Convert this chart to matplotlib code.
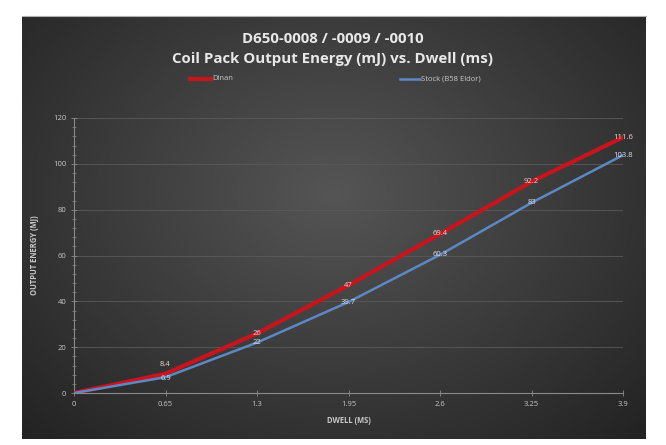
import numpy as np
import matplotlib
matplotlib.use("Agg")
import matplotlib.pyplot as plt
from matplotlib.ticker import MultipleLocator

dwell = [0, 0.65, 1.3, 1.95, 2.6, 3.25, 3.9]
dinan = [0, 8.4, 26, 47, 69.4, 92.2, 111.6]
stock = [0, 6.9, 22, 39.7, 60.3, 83, 103.8]
dinan_labels = ["", "8.4", "26", "47", "69.4", "92.2", "111.6"]
stock_labels = ["", "6.9", "22", "39.7", "60.3", "83", "103.8"]

plt.rcParams['font.family'] = ['Open Sans', 'DejaVu Sans']

fig = plt.figure(figsize=(6.66, 4.45), dpi=100)
fig.patch.set_facecolor('white')

# dark panel with radial gradient
bg = fig.add_axes([22/666, 1-439/445, (646-22)/666, (439-16)/445])
bg.set_axis_off()
yy, xx = np.mgrid[0:1:300j, 0:1:440j]
r = np.sqrt(((xx-0.5)/0.75)**2 + ((yy-0.42)/0.85)**2)
r = np.clip(r, 0, 1)
c0 = np.array([0x55, 0x55, 0x55])/255
c1 = np.array([0x20, 0x20, 0x20])/255
img = c0[None, None, :]*(1-r[..., None]) + c1[None, None, :]*r[..., None]
bg.imshow(img, aspect='auto', extent=[0, 1, 0, 1])
fig.add_artist(plt.Line2D([22/666, 646/666], [1-16/445, 1-16/445], color='#b0b0b0', lw=0.8))

ax = fig.add_axes([74/666, 1-393/445, (623-74)/666, (393-118)/445])
ax.patch.set_alpha(0)
ax.plot(dwell, dinan, color='#c8141c', lw=3.0, solid_capstyle='round', zorder=3)
ax.plot(dwell, stock, color='#5d88c4', lw=1.8, solid_capstyle='round', zorder=4)

# data labels (the first pair sits very close, nudge them apart a little)
for i, (x, y, t) in enumerate(zip(dwell, dinan, dinan_labels)):
    dy = 4 if i == 1 else 0
    ax.text(x, y + dy, t, color='#f0d8d8', fontsize=5.5, ha='center', va='center', zorder=5)
for i, (x, y, t) in enumerate(zip(dwell, stock, stock_labels)):
    dy = -0.5 if i == 1 else 0
    ax.text(x, y + dy, t, color='#d8e2f0', fontsize=5.5, ha='center', va='center', zorder=5)

ax.set_xlim(0, 3.9)
ax.set_ylim(0, 120)
ax.set_xticks(dwell)
ax.set_xticklabels(["0", "0.65", "1.3", "1.95", "2.6", "3.25", "3.9"])
ax.set_yticks(np.arange(0, 121, 20))
ax.yaxis.set_minor_locator(MultipleLocator(4))
ax.grid(axis='y', color='#5a5a5a', lw=0.6)
ax.set_axisbelow(True)
for s in ['top', 'right']:
    ax.spines[s].set_visible(False)
for s in ['left', 'bottom']:
    ax.spines[s].set_color('#8a8a8a')
    ax.spines[s].set_linewidth(0.8)
ax.tick_params(axis='both', colors='#8a8a8a', labelcolor='#c8c8c8', labelsize=5.5,
               direction='inout', length=4, width=0.6)
ax.tick_params(axis='y', which='minor', colors='#8a8a8a', direction='inout', length=3, width=0.5)
ax.set_xlabel('DWELL (MS)', color='#c8c8c8', fontsize=5.5, fontweight='bold', labelpad=6)
ax.set_ylabel('OUTPUT ENERGY (MJ)', color='#c8c8c8', fontsize=5.5, fontweight='bold', labelpad=10)

fig.text(0.5, 1-39/445, 'D650-0008 / -0009 / -0010', color='#e8e8e8', fontsize=10.8,
         fontweight='bold', ha='center', va='center')
fig.text(0.5, 1-59/445, 'Coil Pack Output Energy (mJ) vs. Dwell (ms)', color='#e8e8e8',
         fontsize=10.8, fontweight='bold', ha='center', va='center')

# legend
fig.add_artist(plt.Line2D([190/666, 211/666], [1-79/445]*2, color='#c8141c', lw=3.0))
fig.text(212/666, 1-79/445, 'Dinan', color='#c8c8c8', fontsize=5.5, va='center')
fig.add_artist(plt.Line2D([400/666, 420/666], [1-79/445]*2, color='#5d88c4', lw=1.8))
fig.text(421/666, 1-79/445, 'Stock (B58 Eldor)', color='#c8c8c8', fontsize=5.5, va='center')

fig.savefig('out.png', dpi=100, facecolor='white')
